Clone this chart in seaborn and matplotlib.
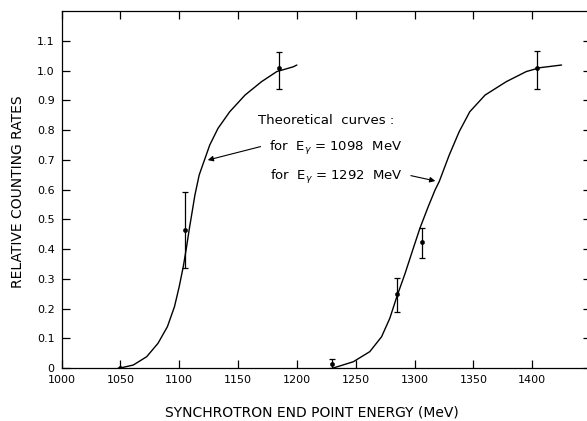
import matplotlib
matplotlib.use('Agg')
import matplotlib.pyplot as plt
import seaborn as sns
import pandas as pd

sns.set_style('ticks')
plt.rcParams['font.family'] = ['DejaVu Sans']
plt.rcParams['text.color'] = 'black'
plt.rcParams['axes.labelcolor'] = 'black'

# theoretical curves
curve1_x = [1050, 1061, 1072.4, 1082, 1090, 1096, 1100, 1103.5, 1106, 1108.5, 1110.6, 1113.4,
            1117, 1121, 1126, 1133, 1143, 1156, 1170, 1183, 1197, 1200]
curve1_y = [0.0, 0.01, 0.038, 0.083, 0.139, 0.206, 0.273, 0.341, 0.40, 0.465, 0.515, 0.582,
            0.649, 0.694, 0.75, 0.806, 0.862, 0.918, 0.963, 0.997, 1.013, 1.019]
curve2_x = [1231, 1248, 1262, 1272, 1279, 1285, 1292, 1299, 1304.6, 1311.7, 1317.5, 1321,
            1329.5, 1338, 1347, 1360, 1378, 1395, 1406.6, 1425]
curve2_y = [0.0, 0.021, 0.055, 0.105, 0.167, 0.24, 0.318, 0.403, 0.47, 0.543, 0.599, 0.627,
            0.716, 0.795, 0.862, 0.918, 0.963, 0.997, 1.01, 1.019]

# measured points with error bars
pts_x = [1050, 1105, 1185, 1230, 1285, 1306, 1404]
pts_y = [0.0, 0.464, 1.008, 0.015, 0.249, 0.423, 1.008]
err_lo = [0.0, 0.336, 0.937, 0.0, 0.187, 0.371, 0.937]
err_hi = [0.0, 0.592, 1.064, 0.03, 0.304, 0.47, 1.067]

x_ticks = [1000, 1050, 1100, 1150, 1200, 1250, 1300, 1350, 1400]
y_ticks = [0, 0.1, 0.2, 0.3, 0.4, 0.5, 0.6, 0.7, 0.8, 0.9, 1.0, 1.1]
y_labels = ['0', '0.1', '0.2', '0.3', '0.4', '0.5', '0.6', '0.7', '0.8', '0.9', '1.0', '1.1']

curves = pd.concat([
    pd.DataFrame({'energy': curve1_x, 'rate': curve1_y, 'curve': '1098'}),
    pd.DataFrame({'energy': curve2_x, 'rate': curve2_y, 'curve': '1292'}),
])
pts = pd.DataFrame({'energy': pts_x, 'rate': pts_y, 'lo': err_lo, 'hi': err_hi})

fig = plt.figure(figsize=(5.87, 4.21), dpi=100)
ax = fig.add_axes([61.5 / 587, 1 - 368 / 421, (591 - 61.5) / 587, (368 - 11.2) / 421])

sns.lineplot(data=curves, x='energy', y='rate', units='curve', estimator=None,
             sort=False, color='black', linewidth=1.0, ax=ax)
ax.errorbar(pts.energy, pts.rate, yerr=[pts.rate - pts.lo, pts.hi - pts.rate],
            fmt='none', ecolor='black', elinewidth=0.9, capsize=2.5, capthick=0.9)
sns.scatterplot(data=pts, x='energy', y='rate', color='black', s=10,
                edgecolor='black', zorder=3, ax=ax)

ax.set_xlim(1000, 1450)
ax.set_ylim(0, 1.2)
ax.set_xticks(x_ticks)
ax.set_yticks(y_ticks)
ax.set_yticklabels(y_labels)
ax.tick_params(direction='in', length=6, width=0.9, top=True, right=True,
               labelsize=8, pad=5, colors='black')
for s in ax.spines.values():
    s.set_linewidth(0.9)
    s.set_color('black')
ax.spines['right'].set_visible(False)

ax.set_xlabel('SYNCHROTRON END POINT ENERGY (MeV)', fontsize=10)
ax.set_ylabel('RELATIVE COUNTING RATES', fontsize=10)
ax.xaxis.set_label_coords(0.473, -0.104)
ax.yaxis.set_label_coords(-0.069, 0.493)

ax.text(1167, 0.834, 'Theoretical  curves :', fontsize=9.5, va='center')
ax.text(1176, 0.739, 'for  E$_\\gamma$ = 1098  MeV', fontsize=9.5, va='center')
ax.text(1177, 0.643, 'for  E$_\\gamma$ = 1292  MeV', fontsize=9.5, va='center')

arrow = dict(arrowstyle='-|>', color='black', lw=0.8, mutation_scale=8)
ax.annotate('', xy=(1122, 0.697), xytext=(1171.5, 0.747), arrowprops=arrow)
ax.annotate('', xy=(1320, 0.627), xytext=(1294.6, 0.649), arrowprops=arrow)

fig.savefig('out.png', dpi=100)
